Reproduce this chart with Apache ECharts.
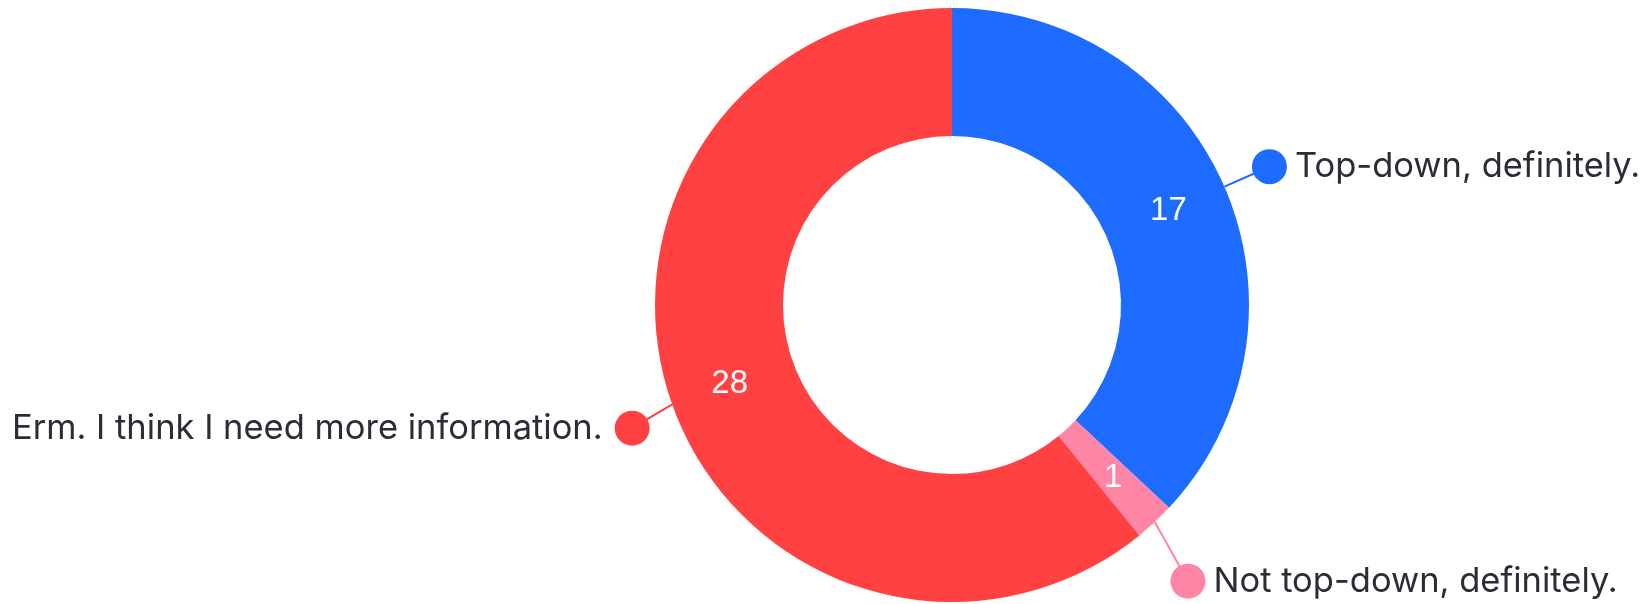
<!DOCTYPE html>
<html>
<head>
<meta charset="utf-8">
<script src="https://cdn.jsdelivr.net/npm/echarts@6/dist/echarts.min.js"></script>
<style>
html,body{margin:0;padding:0;background:#fff;}
#c{width:1647px;height:604px;}
</style>
</head>
<body>
<div id="c"></div>
<script>
const categories = ["Top-down, definitely.", "Not top-down, definitely.", "Erm. I think I need more information."];
const values = [17, 1, 28];
const colors = ["#1E6BFF", "#FF85A6", "#FF4141"];
const lineLengths = [30, 48, 26];
const labelShift = [[0, -8], [-17, 24], [2, 15]];
const DOT_R = 17.5;

const total = values.reduce((a, b) => a + b, 0);
let cum = 0;
const sides = values.map(v => {
  const mid = (cum + v / 2) / total * 360;
  cum += v;
  return mid < 180 ? 'right' : 'left';
});

const rich = {
  name: { fontSize: 34.5, fontFamily: 'Inter', color: '#2a2d35', lineHeight: 42 },
  gapR: { width: 8 },
  gapL: { width: 12 }
};
colors.forEach((c, i) => {
  rich['dot' + i] = { width: DOT_R * 2, height: DOT_R * 2, borderRadius: DOT_R, backgroundColor: c };
});

const chart = echarts.init(document.getElementById('c'));
chart.setOption({
  backgroundColor: '#ffffff',
  animation: false,
  series: [
    {
      type: 'pie',
      center: [952, 305],
      radius: [169, 297],
      startAngle: 90,
      clockwise: true,
      avoidLabelOverlap: false,
      silent: true,
      label: {
        show: true,
        position: 'inside',
        formatter: '{c}',
        color: '#ffffff',
        fontSize: 33,
        fontFamily: 'Liberation Sans'
      },
      labelLine: { show: false },
      data: categories.map((n, i) => ({ name: n, value: values[i], itemStyle: { color: colors[i] } }))
    },
    {
      type: 'pie',
      center: [952, 305],
      radius: [169, 297],
      startAngle: 90,
      clockwise: true,
      avoidLabelOverlap: false,
      silent: true,
      itemStyle: { color: 'rgba(0,0,0,0)' },
      label: {
        show: true,
        position: 'outside',
        distanceToLabelLine: 0,
        rich: rich,
        formatter: p => sides[p.dataIndex] === 'right'
          ? '{dot' + p.dataIndex + '|}{gapR|}{name|' + p.name + '}'
          : '{name|' + p.name + '}{gapL|}{dot' + p.dataIndex + '|}'
      },
      labelLayout: p => {
        const i = p.dataIndex;
        const s = labelShift[i];
        const pts = p.labelLinePoints;
        if (!pts) return { dx: s[0], dy: s[1] };
        const a = pts[0];
        const e = pts[pts.length - 1];
        const off = sides[i] === 'right' ? DOT_R : -DOT_R;
        const end = [e[0] + s[0] + off, e[1] + s[1]];
        return {
          dx: s[0], dy: s[1],
          labelLinePoints: [[a[0], a[1]], end, end]
        };
      },
      data: categories.map((n, i) => ({
        name: n,
        value: values[i],
        labelLine: { show: true, length: lineLengths[i], length2: 0, lineStyle: { color: colors[i], width: 2 } }
      }))
    }
  ]
});
</script>
</body>
</html>
